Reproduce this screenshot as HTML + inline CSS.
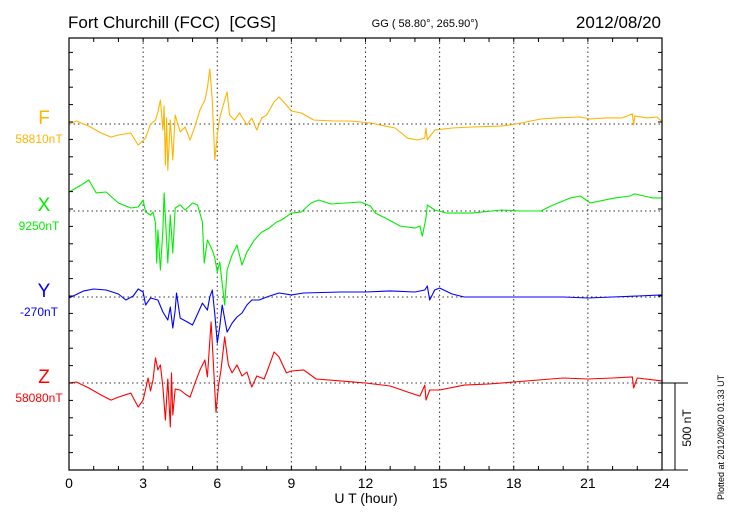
<!DOCTYPE html>
<html><head><meta charset="utf-8">
<style>
body{margin:0;background:#fff;}
svg{display:block;font-family:"Liberation Sans",sans-serif;}
</style></head>
<body>
<svg id="chart" width="730" height="520" viewBox="0 0 730 520" xmlns="http://www.w3.org/2000/svg">
<rect width="730" height="520" fill="#fff"/>
<text x="68" y="28" font-size="17" fill="#000" xml:space="preserve">Fort Churchill (FCC)&#160; [CGS]</text>
<text x="425" y="27" font-size="11" text-anchor="middle" fill="#000">GG ( 58.80°, 265.90°)</text>
<text x="661" y="28" font-size="17" text-anchor="end" fill="#000">2012/08/20</text>
<g id="grid"></g>
<g id="series"></g>
<g id="axes"></g>
<g id="labels"></g>
<text x="366" y="503" font-size="14" text-anchor="middle" fill="#000">U T (hour)</text>
<text transform="translate(724,500) rotate(-90)" font-size="9" fill="#000">Plotted at 2012/09/20 01:33 UT</text>
<text transform="translate(691,428) rotate(-90)" font-size="12" text-anchor="middle" fill="#000">500 nT</text>
</svg>
<script>
const tickHours=[0,3,6,9,12,15,18,21,24];
const seriesNames=["F","X","Y","Z"];
const seriesColors=["#ffb400","#00ee00","#0000ff","#ff0000"];
const baseLabels=["58810nT","9250nT","-270nT","58080nT"];
const tF=[0,0.3,0.8,1.3,1.7,2,2.5,2.8,3.1,3.3,3.5,3.6,3.7,3.8,3.85,3.9,3.95,4.0,4.1,4.2,4.3,4.5,4.7,4.9,5.1,5.3,5.5,5.6,5.7,5.8,5.9,6.0,6.1,6.3,6.4,6.5,6.7,6.9,7.2,7.4,7.6,7.8,8,8.3,8.5,8.8,9.0,9.4,9.9,10.7,11.4,12.2,12.6,13.2,13.7,14.1,14.4,14.45,14.5,14.8,15.5,16.3,17.5,18.1,19.1,19.7,20.7,21.1,21.7,22.4,22.8,22.85,22.9,23.4,23.8,24];
const vF=[0,17,-12,-52,-75,-63,-52,-121,-81,0,23,69,138,-35,104,-236,35,-265,23,-207,52,-46,-17,-92,-12,81,138,207,316,138,-207,-63,35,138,184,52,23,63,-6,35,-35,35,52,127,155,109,75,63,23,17,17,6,-6,-23,-81,-92,-81,-23,-92,-35,-23,-17,-12,0,29,35,40,29,35,35,58,-6,46,35,40,12];
const tX=[0,0.5,0.8,1.1,1.5,2,2.5,2.8,3.0,3.1,3.3,3.4,3.5,3.55,3.6,3.7,3.8,3.85,4.0,4.1,4.2,4.3,4.5,4.7,5.0,5.2,5.4,5.47,5.6,5.8,5.9,6.0,6.1,6.3,6.4,6.6,6.8,7.0,7.2,7.5,7.8,8.1,8.4,8.6,9.0,9.4,9.8,10.1,10.6,11.2,11.8,12.2,12.4,12.8,13.4,14.0,14.2,14.3,14.45,14.5,14.8,15.3,16.3,17.5,18.3,19.1,19.5,20.3,20.7,21.1,21.5,22.1,22.7,22.9,23.6,24];
const vX=[109,150,178,104,109,46,17,23,63,-6,-23,-6,-69,-299,-109,-339,-109,104,-299,-23,-242,17,35,6,46,35,-63,-299,-167,-224,-270,-351,-293,-540,-339,-253,-196,-311,-236,-167,-121,-98,-63,-52,-12,-6,46,63,40,46,52,29,-12,-40,-86,-98,-86,-144,-40,35,6,-12,-12,6,0,0,29,75,86,46,58,75,86,98,75,75];
const tY=[0,0.6,1.0,1.5,2,2.3,2.6,2.8,3.0,3.1,3.3,3.6,3.8,4.0,4.1,4.2,4.3,4.35,4.5,4.8,5.0,5.2,5.4,5.6,5.7,5.8,5.9,6.0,6.1,6.2,6.4,6.6,6.8,7.0,7.2,7.4,7.7,8.0,8.5,9.0,9.5,11,12,13,14,14.4,14.5,14.6,14.8,15,15.5,16,17,18,19,20,21,22,23,24];
const vY=[-6,35,46,40,17,-17,6,46,29,-46,-6,-17,-86,-132,-58,-178,-75,23,-121,-144,-161,-98,-35,-75,0,40,-98,-265,-173,-46,-202,-150,-115,-92,-46,-17,-17,0,23,12,23,29,29,35,29,40,63,-17,40,52,17,0,0,0,0,0,-6,0,6,12];
const tZ=[0,0.3,0.8,1.3,1.7,2.0,2.5,2.8,3.0,3.2,3.3,3.4,3.5,3.6,3.7,3.8,3.9,4.0,4.1,4.15,4.2,4.3,4.5,4.7,4.9,5.1,5.3,5.5,5.6,5.75,5.85,5.95,6.05,6.15,6.3,6.45,6.6,6.8,7.0,7.2,7.4,7.6,7.9,8.1,8.3,8.5,8.8,9.0,9.5,10,11,12,13,13.7,14.2,14.4,14.45,14.6,15,16,17,18,19,20,21,22,22.8,22.85,23,24];
const vZ=[0,6,-29,-69,-98,-81,-58,-138,-98,29,-46,17,144,75,104,-23,-213,23,-253,58,-184,-35,-40,-63,-81,0,75,132,35,351,98,-167,-17,75,265,104,58,104,40,63,-23,40,23,98,178,150,58,69,75,23,12,0,-17,-52,-75,-12,-98,-40,-40,-12,-6,6,17,29,23,29,35,-29,29,12];

const X0=69,X1=662,Y0=38,Y1=470;
const baselines=[124,211,297,383];
const pxPerNT=87/500;
const xs=h=>X0+(X1-X0)*h/24;
const ys=(i,v)=>baselines[i]-v*pxPerNT;
const NS="http://www.w3.org/2000/svg";
function mk(tag,attrs,parent){const e=document.createElementNS(NS,tag);for(const k in attrs)e.setAttribute(k,attrs[k]);parent.appendChild(e);return e;}
const grid=document.getElementById('grid'),ser=document.getElementById('series'),ax=document.getElementById('axes'),lab=document.getElementById('labels');

tickHours.forEach(h=>{
  if(h>0&&h<24){const l=mk('line',{x1:xs(h),x2:xs(h),y1:Y0,y2:Y1,stroke:'#333','stroke-width':1,'stroke-dasharray':'1.5,3'},grid);
  
  }
  const t=mk('text',{x:xs(h),y:488,'font-size':14,'text-anchor':'middle',fill:'#000'},ax);
  t.textContent=h;
  
  
});
baselines.forEach((b,i)=>{
  const l=mk('line',{x1:X0,x2:X1,y1:b,y2:b,stroke:'#333','stroke-width':1,'stroke-dasharray':'1.5,3'},grid);
  
  
});
const allT=[tF,tX,tY,tZ],allV=[vF,vX,vY,vZ];
allT.forEach((ts,i)=>{
  const d=ts.map((t,j)=>(j?'L':'M')+xs(t).toFixed(1)+','+ys(i,allV[i][j]).toFixed(1)).join('');
  const p=mk('path',{d:d,fill:'none',stroke:seriesColors[i],'stroke-width':1.1,'stroke-linejoin':'round'},ser);
  
  
  const n=mk('text',{x:44,y:baselines[i]+0,'font-size':19,'text-anchor':'middle',fill:seriesColors[i]},lab);
  n.textContent=seriesNames[i];
  
  
  const bl=mk('text',{x:39,y:baselines[i]+19,'font-size':12,'text-anchor':'middle',fill:seriesColors[i]},lab);
  bl.textContent=baseLabels[i];
  
  
});
const fr=mk('rect',{x:X0,y:Y0,width:X1-X0,height:Y1-Y0,fill:'none',stroke:'#000','stroke-width':1.2},ax);


for(let h=1;h<24;h++){
  mk('line',{x1:xs(h),x2:xs(h),y1:Y0,y2:Y0+4,stroke:'#000'},ax);
  mk('line',{x1:xs(h),x2:xs(h),y1:Y1,y2:Y1-4,stroke:'#000'},ax);
}
for(let y=383;y>Y0+1;y-=87/5){
  mk('line',{x1:X0,x2:X0+4,y1:y,y2:y,stroke:'#000'},ax);
  mk('line',{x1:X1,x2:X1-4,y1:y,y2:y,stroke:'#000'},ax);
}
for(let y=383+87/5;y<Y1-1;y+=87/5){
  mk('line',{x1:X0,x2:X0+4,y1:y,y2:y,stroke:'#000'},ax);
  mk('line',{x1:X1,x2:X1-4,y1:y,y2:y,stroke:'#000'},ax);
}
mk('line',{x1:X1,x2:688,y1:Y1,y2:Y1,stroke:'#000'},ax);
const sb=mk('path',{d:'M662,383H688M675,383V470',fill:'none',stroke:'#000','stroke-width':1},ax);


</script>
</body></html>
